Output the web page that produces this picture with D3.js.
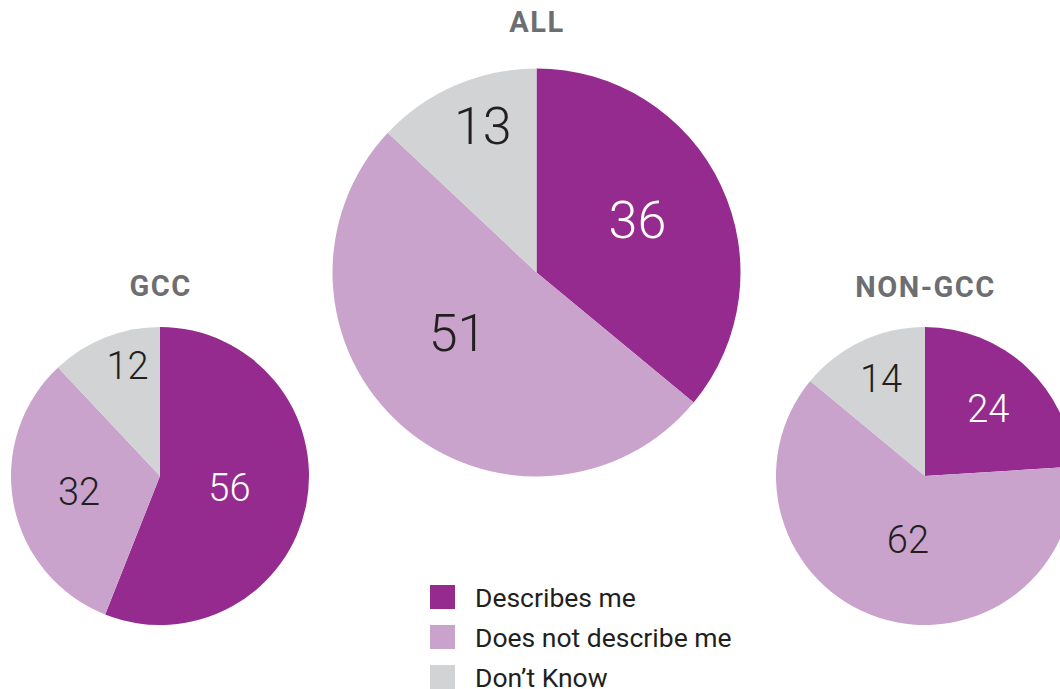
<!DOCTYPE html>
<html>
<head>
<meta charset="utf-8">
<script src="https://cdn.jsdelivr.net/npm/d3@7"></script>
<style>
  html, body { margin: 0; padding: 0; background: #ffffff; overflow: hidden; }
  svg { display: block; }
</style>
</head>
<body>
<svg id="chart" width="1060" height="689"></svg>
<script>
// Survey answers (percent) per group
const categories = ["Describes me", "Does not describe me", "Don\u2019t Know"];
const groups = ["ALL", "GCC", "NON-GCC"];
const valuesAll = [36, 51, 13];
const valuesGcc = [56, 32, 12];
const valuesNonGcc = [24, 62, 14];

// Colours and drawing layout
const colors = ["#952b8f", "#c9a3cc", "#d1d3d4"];
const labelColors = ["#ffffff", "#231f20", "#231f20"];
// labelR: distance of each value label from the centre (share of radius)
// labelTurn: small angular nudge (degrees) from the slice's mid angle
const pieLayout = [
  { name: groups[0], values: valuesAll,    cx: 536.5, cy: 272.5, r: 204, font: 52, titleY: 32,
    labelR: [0.56, 0.485, 0.765], labelTurn: [-2.7, 11.6, 3.3] },
  { name: groups[1], values: valuesGcc,    cx: 160,   cy: 476,   r: 149, font: 38, titleY: 296,
    labelR: [0.473, 0.553, 0.776], labelTurn: [-1, 0.3, 5.3] },
  { name: groups[2], values: valuesNonGcc, cx: 925,   cy: 476,   r: 149, font: 38, titleY: 297,
    labelR: [0.62, 0.44, 0.715], labelTurn: [0, -2.9, 0.8] }
];

const svg = d3.select("#chart");
const color = d3.scaleOrdinal().domain(categories).range(colors);
const pie = d3.pie().sort(null).value(d => d.value);
const FONT = "Roboto, 'DejaVu Sans', sans-serif";

pieLayout.forEach(p => {
  const data = p.values.map((v, i) => ({ key: categories[i], value: v, idx: i }));
  const arcs = pie(data);
  const arc = d3.arc().innerRadius(0).outerRadius(p.r);
  const g = svg.append("g").attr("transform", `translate(${p.cx},${p.cy})`);

  g.selectAll("path.slice")
    .data(arcs)
    .join("path")
    .attr("class", "slice")
    .attr("d", arc)
    .attr("fill", d => color(d.data.key));

  g.selectAll("text.val")
    .data(arcs)
    .join("text")
    .attr("class", "val")
    .attr("transform", d => {
      const i = d.data.idx;
      const a = (d.startAngle + d.endAngle) / 2 + p.labelTurn[i] * Math.PI / 180;
      const lr = p.r * p.labelR[i];
      return `translate(${lr * Math.sin(a)},${-lr * Math.cos(a)})`;
    })
    .attr("text-anchor", "middle")
    .attr("dy", "0.355em")
    .attr("font-family", FONT)
    .attr("font-weight", 300)
    .attr("font-size", p.font)
    .attr("fill", d => labelColors[d.data.idx])
    .text(d => d.data.value);

  svg.append("text")
    .attr("x", p.cx + 0.5)
    .attr("y", p.titleY)
    .attr("text-anchor", "middle")
    .attr("font-family", FONT)
    .attr("font-weight", 700)
    .attr("font-size", 29)
    .attr("letter-spacing", 1.5)
    .attr("fill", "#6d6e71")
    .text(p.name);
});

// Legend
const legend = svg.append("g").attr("transform", "translate(430,585)");
const item = legend.selectAll("g.item")
  .data(categories)
  .join("g")
  .attr("class", "item")
  .attr("transform", (d, i) => `translate(0,${i * 40})`);
item.append("rect")
  .attr("width", 25)
  .attr("height", 24)
  .attr("fill", d => color(d));
item.append("text")
  .attr("x", 45)
  .attr("y", 21.5)
  .attr("font-family", FONT)
  .attr("font-weight", 400)
  .attr("font-size", 26.5)
  .attr("fill", "#231f20")
  .text(d => d);
</script>
</body>
</html>
